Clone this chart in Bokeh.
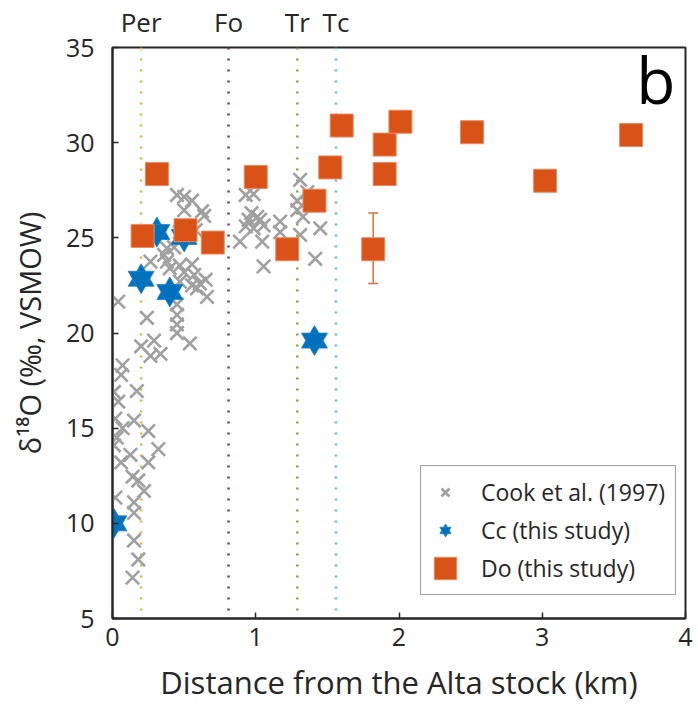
from bokeh.plotting import figure
from bokeh.models import (ColumnDataSource, Range1d, Span, Label, Legend, LegendItem,
                          LinearAxis, FixedTicker, Whisker, TeeHead)
from bokeh.embed import file_html
from bokeh.resources import INLINE

# ---------------- data ----------------
cook_x = [0.04, 0.24, 0.20, 0.29, 0.265, 0.335, 0.07, 0.06, 0.01, 0.17, 0.04, 0.02, 0.15, 0.07,
          0.25, 0.03, 0.01, 0.32, 0.125, 0.06, 0.25, 0.14, 0.18, 0.22, 0.02, 0.15, 0.15, 0.15,
          0.18, 0.14,
          0.45, 0.50, 0.555, 0.50, 0.625, 0.64, 0.47, 0.58, 0.38, 0.43, 0.36, 0.265, 0.38, 0.47,
          0.555, 0.40, 0.50, 0.57, 0.65, 0.47, 0.555, 0.61, 0.59, 0.66, 0.45, 0.45, 0.45, 0.45,
          0.54,
          0.93, 0.985, 0.97, 1.01, 0.95, 1.03, 0.93, 0.985, 1.055, 0.89, 1.045, 1.055, 1.17, 1.17,
          1.31, 1.36, 1.29, 1.29, 1.33, 1.31, 1.45, 1.415]
cook_y = [21.65, 20.8, 19.3, 19.6, 18.8, 18.9, 18.3, 17.8, 16.9, 16.95, 16.4, 15.5, 15.4, 15.0,
          14.85, 14.5, 14.1, 13.9, 13.6, 13.2, 13.2, 12.45, 12.25, 11.7, 11.35, 11.1, 10.55, 9.1,
          8.1, 7.15,
          27.25, 27.15, 26.95, 26.45, 26.4, 26.15, 25.3, 25.4, 24.45, 24.5, 24.1, 23.75, 23.75, 23.55,
          23.6, 23.4, 23.2, 23.05, 22.8, 22.7, 22.5, 22.6, 22.35, 21.9, 21.5, 20.95, 20.45, 20.0,
          19.45,
          27.25, 27.3, 26.3, 26.1, 25.95, 25.95, 25.6, 25.5, 25.65, 24.8, 24.8, 23.5, 25.85, 25.3,
          28.05, 27.4, 26.95, 26.45, 26.1, 25.15, 25.5, 23.9]

cc_x = [0.01, 0.20, 0.31, 0.40, 0.50, 1.41]
cc_y = [10.0, 22.85, 25.3, 22.15, 25.05, 19.6]

do_x = [0.31, 0.21, 0.51, 0.70, 1.00, 1.22, 1.41, 1.52, 1.60, 1.90, 1.90, 1.82, 2.01, 2.51, 3.02, 3.62]
do_y = [28.35, 25.1, 25.4, 24.75, 28.2, 24.4, 26.95, 28.7, 30.9, 29.9, 28.35, 24.4, 31.1, 30.55, 28.0, 30.4]

err_x = [1.82, 1.90]
err_lo = [22.6, 27.8]
err_hi = [26.3, 28.95]

zone_x = [0.2, 0.81, 1.29, 1.56]
zone_labels = ["Per", "Fo", "Tr", "Tc"]
zone_colors = ["#EDB120", "#7E2F8E", "#77AC30", "#4DBEEE"]

x_ticks = [0, 1, 2, 3, 4]
y_ticks = [5, 10, 15, 20, 25, 30, 35]

FONT = "Open Sans"
TXT = "#262626"

p = figure(width=698, height=713, output_backend="svg", toolbar_location=None,
           x_range=Range1d(0, 4), y_range=Range1d(5, 35),
           min_border_left=112, min_border_right=13, min_border_top=45, min_border_bottom=95)
p.background_fill_color = "white"
p.border_fill_color = "white"
p.grid.visible = False
p.outline_line_color = TXT
p.outline_line_width = 2

for zx, zc in zip(zone_x, zone_colors):
    p.add_layout(Span(location=zx, dimension="height", line_color=zc, line_width=2.5,
                      line_dash="2 9", level="underlay"))

cook_src = ColumnDataSource(dict(x=cook_x, y=cook_y))
r_cook = p.scatter("x", "y", source=cook_src, marker="x", size=19, line_color="#a0a0a0",
                   line_width=2.6)

cc_src = ColumnDataSource(dict(x=cc_x, y=cc_y))
r_cc1 = p.scatter("x", "y", source=cc_src, marker="triangle", size=26, fill_color="#0072BD",
                  line_color="#1f80c8", line_width=0.8)
r_cc2 = p.scatter("x", "y", source=cc_src, marker="inverted_triangle", size=26,
                  fill_color="#0072BD", line_color="#1f80c8", line_width=0.8)

err_src = ColumnDataSource(dict(x=err_x, lo=err_lo, hi=err_hi))
p.add_layout(Whisker(source=err_src, base="x", lower="lo", upper="hi", dimension="height",
                     line_color="#E2703F", line_width=1.5,
                     upper_head=TeeHead(size=10, line_color="#E2703F", line_width=1.5),
                     lower_head=TeeHead(size=10, line_color="#E2703F", line_width=1.5)))

do_src = ColumnDataSource(dict(x=do_x, y=do_y))
r_do = p.rect("x", "y", source=do_src, width=23, height=23, width_units="screen",
              height_units="screen", fill_color="#D95319", line_color="#EE8A5E", line_width=1)

# axes
for ax in (p.xaxis[0], p.yaxis[0]):
    ax.axis_line_color = TXT
    ax.axis_line_width = 2
    ax.major_tick_line_color = TXT
    ax.major_tick_line_width = 1.5
    ax.major_tick_in = 6
    ax.major_tick_out = 0
    ax.minor_tick_line_color = None
    ax.minor_tick_in = 0
    ax.minor_tick_out = 0
    ax.major_label_text_font = FONT
    ax.major_label_text_font_size = "25px"
    ax.major_label_text_color = TXT
    ax.axis_label_text_font = FONT
    ax.axis_label_text_font_style = "normal"
    ax.axis_label_text_color = TXT

p.xaxis[0].ticker = FixedTicker(ticks=x_ticks)
p.yaxis[0].ticker = FixedTicker(ticks=y_ticks)
p.xaxis[0].axis_label = "Distance from the Alta stock (km)"
p.yaxis[0].axis_label = "δ¹⁸O (‰, VSMOW)"
p.xaxis[0].axis_label_text_font_size = "31px"
p.yaxis[0].axis_label_text_font_size = "29px"
p.xaxis[0].major_label_standoff = 9
p.xaxis[0].axis_label_standoff = 12
p.yaxis[0].major_label_standoff = 18
p.yaxis[0].axis_label_standoff = 14

top = LinearAxis(ticker=FixedTicker(ticks=zone_x),
                 major_label_overrides={zx: lab for zx, lab in zip(zone_x, zone_labels)})
top.axis_line_color = None
top.major_tick_line_color = None
top.major_tick_in = 0
top.major_tick_out = 0
top.minor_tick_line_color = None
top.minor_tick_in = 0
top.minor_tick_out = 0
top.major_label_text_font = FONT
top.major_label_text_font_size = "26px"
top.major_label_text_color = TXT
top.major_label_standoff = 8
p.add_layout(top, "above")

p.add_layout(Label(x=3.93, y=33.3, text="b", text_font=FONT, text_font_size="64px",
                   text_align="right", text_baseline="alphabetic", text_color="black"))

legend = Legend(items=[LegendItem(label="Cook et al. (1997)", renderers=[r_cook]),
                       LegendItem(label="Cc (this study)", renderers=[r_cc1, r_cc2]),
                       LegendItem(label="Do (this study)", renderers=[r_do])],
                location=(308, 23), glyph_width=28, glyph_height=28, label_height=28,
                spacing=6, padding=10, margin=0, label_standoff=22,
                label_text_font=FONT, label_text_font_size="23px", label_text_color=TXT,
                border_line_color="#404040", border_line_width=1.5,
                background_fill_color="white", background_fill_alpha=1)
p.add_layout(legend, "center")

open("out.html", "w").write(file_html(p, INLINE))
